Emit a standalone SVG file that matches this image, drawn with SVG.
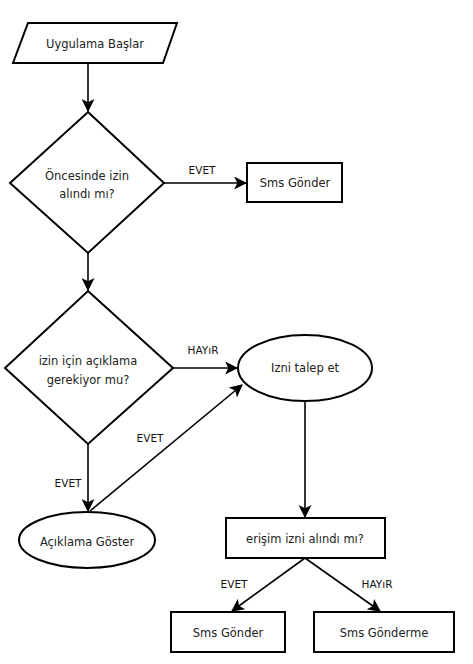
<svg xmlns="http://www.w3.org/2000/svg" width="473" height="664" viewBox="0 0 473 664">
<style>
.s{fill:#fff;stroke:#000;stroke-width:2}
.t{font-family:"DejaVu Sans",Verdana,sans-serif;font-size:11.5px;fill:#222;text-anchor:middle}
.l{font-family:"DejaVu Sans",Verdana,sans-serif;font-size:10.5px;fill:#111;text-anchor:middle}
.c{fill:none;stroke:#000;stroke-width:1.6}
</style>
<defs>
<marker id="a" viewBox="0 0 12 12" refX="11" refY="6" markerWidth="13" markerHeight="13" markerUnits="userSpaceOnUse" orient="auto">
<path d="M0,0 L12,6 L0,12 L3,6 Z" fill="#000"/>
</marker>
</defs>
<rect width="473" height="664" fill="#fff"/>
<g id="connectors">
<line class="c" x1="88" y1="63" x2="88" y2="111" marker-end="url(#a)"/>
<line class="c" x1="164" y1="183" x2="246" y2="183" marker-end="url(#a)"/>
<line class="c" x1="88" y1="253" x2="88" y2="290" marker-end="url(#a)"/>
<line class="c" x1="173" y1="368" x2="237" y2="368" marker-end="url(#a)"/>
<line class="c" x1="88" y1="444" x2="88" y2="511" marker-end="url(#a)"/>
<line class="c" x1="90" y1="511" x2="242" y2="385" marker-end="url(#a)"/>
<line class="c" x1="305" y1="402" x2="305" y2="517" marker-end="url(#a)"/>
<line class="c" x1="305" y1="558" x2="232" y2="611" marker-end="url(#a)"/>
<line class="c" x1="305" y1="558" x2="380" y2="611" marker-end="url(#a)"/>
<text class="l" x="202" y="174">EVET</text>
<text class="l" x="203" y="354">HAYıR</text>
<text class="l" x="150" y="442">EVET</text>
<text class="l" x="68" y="487">EVET</text>
<text class="l" x="234" y="588">EVET</text>
<text class="l" x="377" y="588">HAYıR</text>
</g>
<g id="start">
<polygon class="s" points="28,23 177,23 163,63 13,63"/>
<text class="t" x="95" y="48">Uygulama Başlar</text>
</g>
<g id="d1">
<polygon class="s" points="88,112 164,183 88,253 10,183"/>
<text class="t" x="87" y="180">Öncesinde izin</text>
<text class="t" x="87" y="198">alındı mı?</text>
</g>
<g id="sms1">
<rect class="s" x="247" y="163" width="95" height="39"/>
<text class="t" x="295" y="187">Sms Gönder</text>
</g>
<g id="d2">
<polygon class="s" points="88,291 173,368 88,444 5,368"/>
<text class="t" x="88" y="365">izin için açıklama</text>
<text class="t" x="88" y="384">gerekiyor mu?</text>
</g>
<g id="talep">
<ellipse class="s" cx="305" cy="368" rx="67" ry="33"/>
<text class="t" x="305" y="372">Izni talep et</text>
</g>
<g id="aciklama">
<ellipse class="s" cx="87" cy="540" rx="68" ry="28"/>
<text class="t" x="87" y="546">Açıklama Göster</text>
</g>
<g id="erisim">
<rect class="s" x="226" y="518" width="159" height="40"/>
<text class="t" x="305" y="543">erişim izni alındı mı?</text>
</g>
<g id="sms2">
<rect class="s" x="171" y="612" width="114" height="40"/>
<text class="t" x="228" y="637">Sms Gönder</text>
</g>
<g id="sms3">
<rect class="s" x="314" y="612" width="140" height="40"/>
<text class="t" x="384" y="637">Sms Gönderme</text>
</g>
</svg>
